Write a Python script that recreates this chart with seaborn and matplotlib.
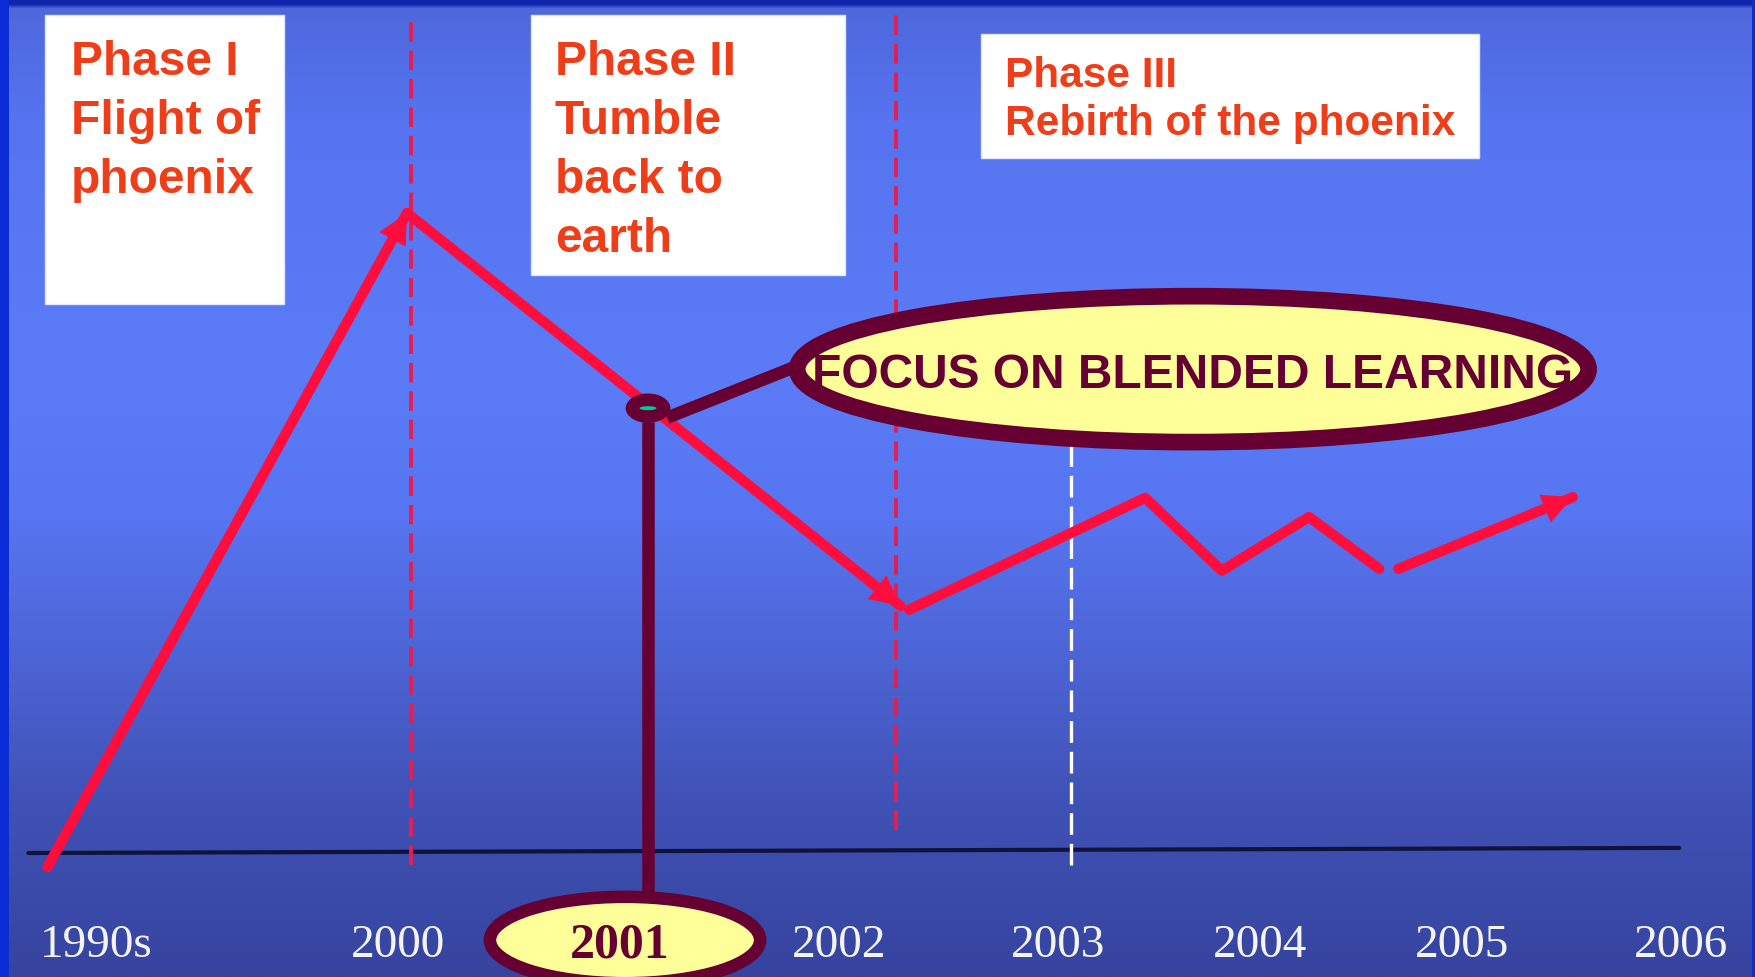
import numpy as np
import pandas as pd
import seaborn as sns
import matplotlib.pyplot as plt
from matplotlib.patches import Ellipse, Rectangle

# --- data (x in years, y in an arbitrary "level", baseline = 0)
leg_id = [1, 1, 2, 2, 3, 3, 3, 3, 3, 4, 4]
leg_year = [1998.31, 2000.0, 2000.0, 2002.32, 2002.36, 2003.47, 2003.83, 2004.24, 2004.57, 2004.66, 2005.48]
leg_level = [-2.2, 100, 100, 38.6, 38.0, 55.5, 44.1, 52.5, 44.4, 44.4, 55.6]
arrow_legs = [1, 2, 4]

tick_labels = ['1990s', '2000', '2001', '2002', '2003', '2004', '2005', '2006']
tick_years = [1998.54, 1999.96, 2001.0, 2002.03, 2003.06, 2004.01, 2004.96, 2005.99]

phase_breaks = [2000.02, 2002.30]
blended_start = 2003.12
phase_lines = [['Phase I', 'Flight of', 'phoenix'],
               ['Phase II', 'Tumble', 'back to', 'earth'],
               ['Phase III', 'Rebirth of the phoenix']]

event_year, event_level = 2001.133, 69.5
callout_text = 'FOCUS ON BLENDED LEARNING'

df = pd.DataFrame({'leg': leg_id, 'year': leg_year, 'level': leg_level})

RED = '#ff0d3d'
MAROON = '#660033'
ORANGE = '#ee3d19'
H = 977.0

sns.set_theme(style='white')
fig = plt.figure(figsize=(17.56, 9.77), dpi=100)

# background gradient + slide borders
bg = fig.add_axes([0, 0, 1, 1])
rows = np.linspace(0, H, 977)
stop_y = [0, 4, 8, 120, 380, 520, 660, 800, 977]
stop_c = np.array([(15, 35, 170), (20, 40, 175), (78, 104, 220), (86, 116, 240), (91, 123, 247),
                   (87, 117, 240), (76, 100, 212), (64, 82, 182), (54, 68, 158)]) / 255
grad = np.stack([np.interp(rows, stop_y, stop_c[:, i]) for i in range(3)], axis=-1)[:, None, :]
bg.imshow(grad, aspect='auto', extent=(0, 1, 0, 1), interpolation='bilinear')
bg.add_patch(Rectangle((0, 0), 0.0051, 1, color='#0a2dd7', lw=0))
bg.add_patch(Rectangle((0.9977, 0), 0.0023, 1, color='#0a2dd7', lw=0))
bg.set_xlim(0, 1)
bg.set_ylim(0, 1)
bg.axis('off')

ax = fig.add_axes([0, 0, 1, 1])
ax.patch.set_alpha(0)

# baseline + phase separators
ax.plot([1998.22, 2005.98], [0, 0.8], color='#10143c', lw=3, zorder=2)
for x in phase_breaks:
    ax.vlines(x, -1.9 if x < 2001 else 3.6, 130.9, colors='#e81c50', lw=2.8,
              linestyles=(0, (5, 2.3)), zorder=2)
ax.vlines(blended_start, -1.9, 70, colors='white', lw=2.4, linestyles=(0, (6.5, 2.7)), zorder=2)

# the trend line
sns.lineplot(data=df, x='year', y='level', units='leg', estimator=None, sort=False,
             color=RED, linewidth=7.4, legend=False, ax=ax, zorder=3)
for leg in arrow_legs:
    pts = df[df['leg'] == leg]
    ax.annotate('', xy=(pts['year'].iloc[-1], pts['level'].iloc[-1]),
                xytext=(pts['year'].iloc[-2], pts['level'].iloc[-2]),
                arrowprops=dict(arrowstyle='-|>', color=RED, lw=2, mutation_scale=46,
                                shrinkA=0, shrinkB=0, joinstyle='miter'), zorder=3)

# phase boxes (pixel boxes of the slide: left, top, right, bottom)
boxes = [(45, 15, 284, 304), (531, 15, 845, 275), (981, 34, 1479, 158)]
for (l, t, r, b) in boxes:
    ax.add_patch(Rectangle((l / 1756, 1 - b / H), (r - l) / 1756, (b - t) / H,
                           transform=ax.transAxes, facecolor='white',
                           edgecolor='#dfe6ff', lw=1, zorder=4))
text_x = [71, 555, 1005]
text_base = [[75, 134, 193], [75, 134, 193, 252], [87, 135]]
text_size = [34.5, 34.5, 30.5]
for lines, x, bases, fs in zip(phase_lines, text_x, text_base, text_size):
    for line, yb in zip(lines, bases):
        ax.text(x / 1756, 1 - yb / H, line, transform=ax.transAxes, ha='left', va='baseline',
                fontsize=fs, fontweight='bold', color=ORANGE, family='Liberation Sans', zorder=5)

# 2001 callout: stick, connector, marker, ellipses
ax.plot([event_year, event_year], [67.3, -6.1], color=MAROON, lw=9, zorder=5,
        solid_capstyle='butt')
ax.plot([2001.222, 2001.82], [68.0, 75.9], color=MAROON, lw=9, zorder=5,
        solid_capstyle='butt')
ax.add_patch(Ellipse((event_year, event_level), 0.21, 4.6, facecolor=MAROON, lw=0, zorder=6))
ax.add_patch(Ellipse((event_year, event_level), 0.08, 0.625, facecolor='#00cc99', lw=0, zorder=7))

ax.add_patch(Ellipse((2003.694, 75.6), 3.72, 22.8, facecolor='#ffff99', edgecolor=MAROON,
                     lw=12, zorder=6))
ax.text(2003.694, 72.7, callout_text, ha='center', va='baseline', fontsize=34.5,
        fontweight='bold', color=MAROON, family='Liberation Sans', zorder=7)

ax.add_patch(Ellipse((2001.025, -13.6), 1.27, 13.5, facecolor='#ffff99', edgecolor=MAROON,
                     lw=9, zorder=6))

# year labels
for lab, yr in zip(tick_labels, tick_years):
    if lab == '2001':
        ax.text(yr, -16.3, lab, ha='center', va='baseline', fontsize=36, fontweight='bold',
                color=MAROON, family='Liberation Serif', zorder=7)
    else:
        ax.text(yr, -16.3, lab, ha='center', va='baseline', fontsize=34,
                color='#f4f4f4', family='Liberation Serif', zorder=7)

ax.set_xlim(1998.087, 2006.341)
ax.set_ylim(-19.375, 133.28)
ax.set_axis_off()

fig.savefig('out.png', dpi=100)
